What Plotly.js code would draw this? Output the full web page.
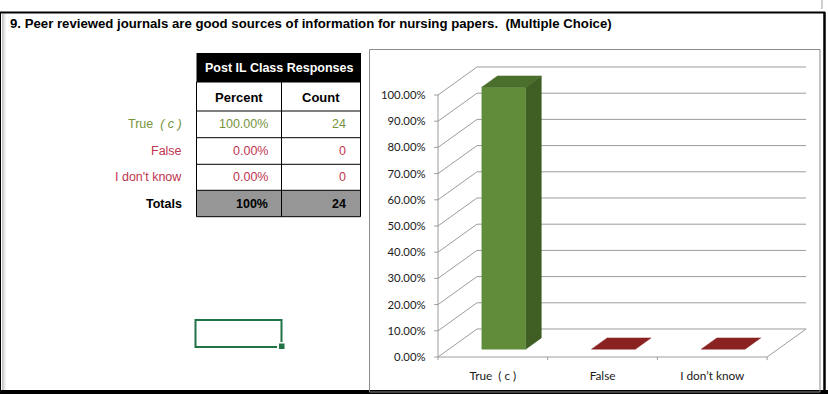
<!DOCTYPE html>
<html><head><meta charset="utf-8">
<script src="https://cdn.plot.ly/plotly-3.0.1.min.js"></script>
<style>html,body{margin:0;padding:0;background:#fff;}#chart{width:828px;height:394px;}</style>
</head><body><div id="chart"></div>
<script>
// ---------- data ----------
const questionTitle = '9. Peer reviewed journals are good sources of information for nursing papers.  (Multiple Choice)';
const tableHeader = 'Post IL Class Responses';
const columnHeaders = ['Percent', 'Count'];
const categories = ['True  ( c )', 'False', 'I don’t know'];
const tableLabels = ['True  <i>( c )</i>', 'False', "I don't know"];
const percents = [100, 0, 0];
const counts = [24, 0, 0];
const totalsLabel = 'Totals';
const yTickValues = [0, 10, 20, 30, 40, 50, 60, 70, 80, 90, 100];
const yTickLabels = ['0.00%', '10.00%', '20.00%', '30.00%', '40.00%', '50.00%', '60.00%', '70.00%', '80.00%', '90.00%', '100.00%'];

// ---------- styles ----------
const W = 828, H = 394;
const labelColors = ['#77933C', '#C0354F', '#C0354F'];
const barColors = [
  {front: '#618D3B', side: '#3E5E23', top: '#4A6F2C'},
  {front: '#A52A2A', side: '#6E1A1A', top: '#8B2222'},
  {front: '#A52A2A', side: '#6E1A1A', top: '#8B2222'}
];
const gridColor = '#9c9c9c';
const tableFont = 'Liberation Sans, Arial, sans-serif';
const chartFont = 'Lato, Open Sans, sans-serif';
const TFS = 12.5;

// pixel geometry of chart plot (front floor origin, scale)
const FX0 = 438, PXC = 109.7, FY0 = 357, PYP = 2.62;
const DX = 0.3555, DY = 10.69;      // oblique depth offset in data units
const D1 = 0.28, D2 = 0.68, BW = 0.4;  // bar depth range and width
const nCat = categories.length;
const xRange = [-0.05, nCat + DX + 0.05];
const yRange = [-2, 100 + DY + 1.5];

const px = x => x / W, py = y => 1 - y / H;
const proj = (x, y, d) => [x + d * DX, y + d * DY];

const traces = [];
// gridlines / walls
(function(){
  const xs = [], ys = [];
  const seg = (a, b) => { xs.push(a[0], b[0], null); ys.push(a[1], b[1], null); };
  yTickValues.forEach(v => {
    seg(proj(0, v, 1), proj(nCat, v, 1));
    seg(proj(0, v, 0), proj(0, v, 1));
  });
  seg(proj(0, 0, 0), proj(nCat, 0, 0));
  seg(proj(nCat, 0, 0), proj(nCat, 0, 1));
  seg(proj(0, 0, 0), proj(0, 100, 0));
  yTickValues.forEach(v => seg([0, v], [-0.035, v]));
  for (let i = 0; i <= nCat; i++) seg([i, 0], [i, -1.2]);
  traces.push({type: 'scatter', mode: 'lines', x: xs, y: ys, line: {color: gridColor, width: 1}, hoverinfo: 'skip', showlegend: false});
})();

function poly(pts, color) {
  const xs = [], ys = [];
  pts.forEach(p => { const q = proj(p[0], p[1], p[2]); xs.push(q[0]); ys.push(q[1]); });
  xs.push(xs[0]); ys.push(ys[0]);
  return {type: 'scatter', mode: 'lines', x: xs, y: ys, fill: 'toself', fillcolor: color,
          line: {color: color, width: 0.5}, hoverinfo: 'skip', showlegend: false};
}
percents.forEach((v, i) => {
  const x0 = i + (1 - BW) / 2, x1 = x0 + BW, c = barColors[i];
  if (v > 0) {
    traces.push(poly([[x1, 0, D1], [x1, 0, D2], [x1, v, D2], [x1, v, D1]], c.side));
    traces.push(poly([[x0, 0, D1], [x1, 0, D1], [x1, v, D1], [x0, v, D1]], c.front));
  }
  traces.push(poly([[x0, v, D1], [x1, v, D1], [x1, v, D2], [x0, v, D2]], c.top));
});

// ---------- table, frame (paper coords) ----------
const shapes = [], annotations = [];
const line = (x0, y0, x1, y1, color, width, dash) => shapes.push({type: 'line', xref: 'paper', yref: 'paper',
  x0: px(x0), y0: py(y0), x1: px(x1), y1: py(y1), line: {color: color, width: width, dash: dash || 'solid'}});
const rect = (x0, y0, x1, y1, fill, lc, lw) => shapes.push({type: 'rect', xref: 'paper', yref: 'paper',
  x0: px(x0), y0: py(y0), x1: px(x1), y1: py(y1), fillcolor: fill, line: {color: lc || fill, width: lw == null ? 0 : lw}});
const text = (x, y, t, opts) => annotations.push(Object.assign({xref: 'paper', yref: 'paper', x: px(x), y: py(y),
  text: t, showarrow: false, xanchor: 'center', yanchor: 'middle',
  font: {family: tableFont, size: TFS, color: '#000'}}, opts || {}));

// outer frame
shapes.push({type: 'line', xref: 'paper', yref: 'paper', x0: px(822), y0: py(0), x1: px(822), y1: py(12), line: {color: '#a0a0a0', width: 1, dash: 'dash'}});
['#c4c4c4', '#d6d6d6', '#e6e6e6', '#f2f2f2'].forEach((c, k) => line(2.5 + k, 14, 2.5 + k, 390, c, 1));
line(0, 12.5, 825, 12.5, '#000', 2);
line(0.5, 12, 0.5, 394, '#000', 1);
line(824.5, 12, 824.5, 394, '#000', 2.5);
line(0, 392, 828, 392, '#000', 4);

// chart box
rect(369.5, 49.5, 820, 392, 'rgba(0,0,0,0)', '#8c8c8c', 1);

// title
text(8, 24, '<b>' + questionTitle + '</b>', {xanchor: 'left', font: {family: tableFont, size: 13.2, color: '#000'}});

// table
const TX0 = 196.5, TX1 = 360.5, TXM = 281.5;
const rowsY = [53, 82, 111, 137.7, 164.3, 190.3, 216.7];
rect(TX0, rowsY[0], TX1, rowsY[1], '#000');
rect(TX0, rowsY[5], TX1, rowsY[6], '#969696');
text((TX0 + TX1) / 2, 68, '<b>' + tableHeader + '</b>', {font: {family: tableFont, size: TFS, color: '#fff'}});
for (let r = 1; r < rowsY.length; r++) line(TX0, rowsY[r], TX1, rowsY[r], '#000', 1);
line(TX0, rowsY[1], TX0, rowsY[6], '#000', 1);
line(TX1, rowsY[0], TX1, rowsY[6], '#000', 1);
line(TXM, rowsY[1], TXM, rowsY[6], '#000', 1);
text((TX0 + TXM) / 2, 97, '<b>' + columnHeaders[0] + '</b>', {font: {family: tableFont, size: 13, color: '#000'}});
text((TXM + TX1) / 2, 97, '<b>' + columnHeaders[1] + '</b>', {font: {family: tableFont, size: 13, color: '#000'}});
tableLabels.forEach((lab, i) => {
  const yc = (rowsY[2 + i] + rowsY[3 + i]) / 2;
  const col = labelColors[i];
  text(184, yc, lab, {xanchor: 'right', font: {family: tableFont, size: TFS, color: col}});
  text(270, yc, percents[i].toFixed(2) + '%', {xanchor: 'right', font: {family: tableFont, size: TFS, color: col}});
  text(348, yc, String(counts[i]), {xanchor: 'right', font: {family: tableFont, size: TFS, color: col}});
});
const totalPct = percents.reduce((a, b) => a + b, 0);
const totalCnt = counts.reduce((a, b) => a + b, 0);
const ty = (rowsY[5] + rowsY[6]) / 2;
text(184, ty, '<b>' + totalsLabel + '</b>', {xanchor: 'right'});
text(270, ty, '<b>' + totalPct.toFixed(0) + '%</b>', {xanchor: 'right'});
text(348, ty, '<b>' + totalCnt + '</b>', {xanchor: 'right'});

// excel selection box
rect(195.5, 320, 281.5, 347, 'rgba(0,0,0,0)', '#217346', 2);
rect(277, 342, 286, 351, '#fff');
rect(279, 343.5, 284.5, 349, '#217346');

const xDomain = [px(FX0 + xRange[0] * PXC), px(FX0 + xRange[1] * PXC)];
const yDomain = [py(FY0 - yRange[0] * PYP), py(FY0 - yRange[1] * PYP)];

const layout = {
  width: W, height: H, margin: {l: 0, r: 0, t: 0, b: 0},
  paper_bgcolor: '#fff', plot_bgcolor: 'rgba(0,0,0,0)',
  showlegend: false,
  xaxis: {domain: xDomain, range: xRange, showgrid: false, zeroline: false, showline: false,
    tickmode: 'array', tickvals: categories.map((c, i) => i + 0.5), ticktext: categories,
    ticks: '', ticklabelstandoff: 5, tickfont: {family: chartFont, size: 11.8, color: '#1a1a1a'}, fixedrange: true},
  yaxis: {domain: yDomain, range: yRange, showgrid: false, zeroline: false, showline: false,
    tickmode: 'array', tickvals: yTickValues, ticktext: yTickLabels,
    ticks: '', ticklabelstandoff: 6, tickfont: {family: chartFont, size: 11.3, color: '#1a1a1a'}, fixedrange: true},
  shapes: shapes, annotations: annotations
};
Plotly.newPlot('chart', traces, layout, {staticPlot: true, displayModeBar: false});
</script>
</body></html>
